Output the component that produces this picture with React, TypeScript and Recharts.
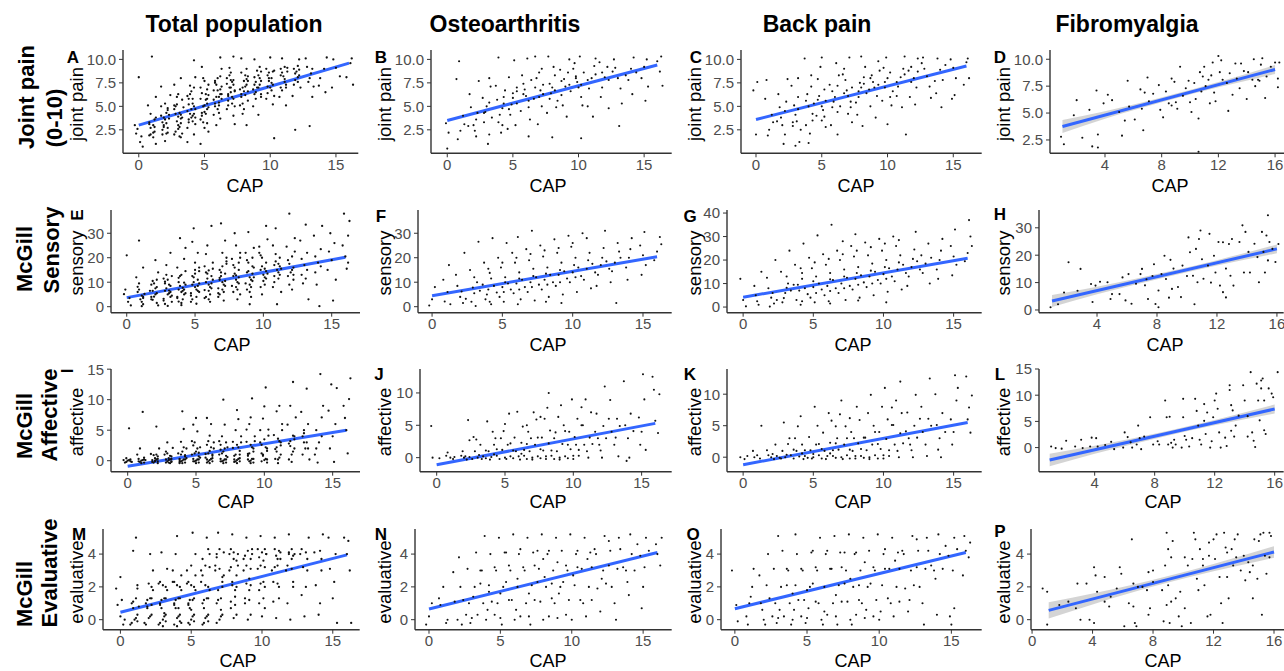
import React from "react";
import { Area, ComposedChart, Line, Scatter, XAxis, YAxis } from "recharts";

type Pt = [number, number];

// ---- Joint pain (0-10) ----
const jointTotal: Pt[] = [
  [0.1,1.2],[-0.2,2.1],[0.3,0.7],[-0.3,3.0],[0.2,1.8],[0.0,8.1],[-0.1,2.6],
  [1.1,2.2],[0.8,3.1],[1.3,1.0],[0.9,4.2],[1.2,2.8],[0.7,5.1],[1.0,10.3],[1.3,6.0],[0.8,1.9],
  [2.1,3.2],[1.8,2.0],[2.3,4.1],[1.7,5.0],[2.2,2.7],[1.9,3.8],[2.4,6.2],[2.0,1.3],[1.7,7.1],[2.2,4.8],
  [3.0,3.0],[2.8,4.2],[3.3,2.1],[2.7,5.1],[3.2,3.7],[2.9,6.0],[3.1,1.8],[3.4,4.9],[2.7,7.3],[3.2,8.0],[3.0,2.6],
  [4.1,4.0],[3.8,5.2],[4.3,3.1],[3.7,6.1],[4.2,2.0],[3.9,7.2],[4.0,4.7],[4.3,8.1],[3.8,3.6],[4.2,9.9],[4.1,5.8],[3.7,1.2],
  [5.0,5.1],[4.8,4.0],[5.3,6.2],[4.7,7.0],[5.2,3.2],[4.9,8.0],[5.1,5.7],[5.3,2.3],[4.8,9.2],[5.2,6.8],[5.0,4.4],[4.7,1.0],
  [6.1,6.0],[5.8,5.0],[6.3,7.1],[5.7,4.1],[6.2,8.2],[5.9,3.0],[6.0,6.7],[6.3,9.0],[5.8,7.7],[6.1,5.4],[6.2,10.2],
  [7.0,7.0],[6.8,6.1],[7.3,5.0],[6.7,8.0],[7.2,4.0],[6.9,9.1],[7.1,7.6],[7.3,3.1],[6.8,5.6],[7.2,10.3],[7.0,6.5],
  [8.1,7.1],[7.8,6.0],[8.3,8.2],[7.7,5.1],[8.2,9.0],[7.9,4.2],[8.0,7.7],[8.3,6.6],[7.8,10.1],[8.2,3.0],
  [9.0,7.0],[8.8,8.1],[9.3,6.0],[8.7,5.0],[9.2,9.2],[8.9,7.6],[9.1,4.1],[9.3,8.7],[8.8,10.0],
  [10.1,8.0],[9.8,7.1],[10.3,6.1],[9.7,9.0],[10.2,5.2],[9.9,8.6],[10.0,10.2],[10.3,1.6],
  [11.0,8.2],[10.8,7.0],[11.3,9.1],[10.7,6.0],[11.2,5.1],[10.9,10.1],[11.1,7.6],
  [12.1,8.1],[11.8,9.0],[12.3,7.0],[11.7,6.1],[12.2,10.0],[11.9,2.5],[12.0,8.7],
  [13.0,8.0],[12.8,9.2],[13.3,7.1],[12.7,10.1],[13.2,6.0],[13.0,2.9],
  [14.1,9.0],[13.8,8.0],[14.3,10.2],[13.7,7.2],[14.2,6.5],
  [15.0,9.1],[14.8,10.0],[15.3,8.2],[14.7,7.0],
  [16.1,9.6],[15.8,8.1],[16.3,7.3],[16.2,10.1],
  [1.2,2.3],[0.8,3.3],[1.1,1.7],[0.9,2.7],[1.3,3.8],
  [2.2,2.2],[1.8,3.3],[2.1,4.3],[1.9,2.8],[2.3,3.7],[1.7,4.0],[2.0,5.3],
  [3.2,3.2],[2.8,2.3],[3.1,4.3],[2.9,5.2],[3.3,3.8],[2.7,4.7],[3.0,6.3],[3.2,1.7],
  [4.2,4.2],[3.8,3.3],[4.1,5.3],[3.9,6.3],[4.3,4.7],[3.7,2.7],[4.0,3.8],[4.2,7.0],
  [5.2,5.3],[4.8,4.3],[5.1,6.3],[4.9,3.3],[5.3,7.3],[4.7,5.8],[5.0,2.7],[5.2,4.7],
  [6.2,6.3],[5.8,5.3],[6.1,4.3],[5.9,7.3],[6.3,5.8],[5.7,6.7],[6.0,8.0],[6.2,3.7],
  [7.2,7.3],[6.8,6.3],[7.1,5.3],[6.9,8.3],[7.3,6.7],[6.7,4.7],[7.0,7.8],[7.2,5.8],
  [8.2,7.3],[7.8,6.3],[8.1,8.3],[7.9,5.3],[8.3,7.7],[7.7,6.8],[8.0,4.7],
  [9.2,7.3],[8.8,6.3],[9.1,8.3],[8.9,5.8],[9.3,7.7],[8.7,6.8],
  [10.2,7.3],[9.8,8.3],[10.1,6.7],[9.9,7.7],[10.3,8.8],[9.7,5.8],
  [11.2,7.3],[10.8,8.3],[11.1,9.2],[10.9,6.7],[11.3,8.7],
  [12.2,8.3],[11.8,7.3],[12.1,9.3],[11.9,7.8],
  [1.1,3.0],[0.9,2.0],[1.2,3.6],[2.1,2.1],[1.9,3.0],[2.2,4.6],[1.8,2.5],[2.0,3.6],
  [3.1,2.8],[2.9,3.4],[3.2,4.1],[2.8,5.0],[3.0,3.9],[3.3,5.7],[2.7,2.0],
  [4.1,3.4],[3.9,4.2],[4.2,5.0],[3.8,5.8],[4.0,6.6],[4.3,3.8],[3.7,4.5],
  [5.1,4.2],[4.9,5.0],[5.2,5.8],[4.8,6.4],[5.0,7.7],[5.3,4.9],[4.7,3.6],
  [6.1,5.1],[5.9,6.0],[6.2,6.8],[5.8,7.5],[6.0,4.7],[6.3,6.3],[5.7,5.7],
  [7.1,6.0],[6.9,7.0],[7.2,7.8],[6.8,5.1],[7.0,8.6],[7.3,6.6],[6.7,7.4],
  [8.1,6.2],[7.9,7.0],[8.2,7.9],[7.8,8.6],[8.0,6.6],[8.3,5.6],
  [9.1,7.0],[8.9,6.5],[9.2,8.0],[8.8,7.3],[9.0,8.8],[9.3,6.3],
  [10.1,7.5],[9.9,8.0],[10.2,8.7],[9.8,6.4],[10.0,7.0],
  [11.1,7.9],[10.9,8.6],[11.2,7.0],[10.8,9.0],[12.1,7.6],[11.9,8.5],[12.2,8.9],[13.1,8.5],[12.9,7.6],[13.2,9.0],
];
const jointOA: Pt[] = [
  [0.0,0.5],[-0.1,3.2],[0.1,2.2],[0.9,9.8],[0.7,7.9],[1.0,2.4],[1.2,4.0],[0.8,1.5],[1.3,3.1],
  [2.0,3.0],[1.8,4.9],[2.2,1.8],[1.7,6.3],[2.3,4.3],[2.1,2.4],[2.4,7.7],
  [3.0,5.0],[2.8,3.3],[3.2,2.0],[2.7,5.9],[3.3,7.1],[2.9,4.4],[3.1,1.0],[3.2,8.0],
  [4.0,4.1],[3.8,5.7],[4.2,3.0],[3.7,7.2],[4.3,6.0],[3.9,10.2],[4.1,2.2],[4.2,4.8],
  [5.0,5.9],[4.8,4.1],[5.3,7.0],[4.7,8.1],[5.2,3.0],[4.9,5.2],[5.1,9.9],[5.3,6.6],
  [6.0,6.1],[5.8,7.4],[6.2,4.9],[5.7,8.3],[6.3,3.6],[5.9,6.8],[6.1,10.1],[6.2,1.8],
  [7.0,6.0],[6.8,8.0],[7.2,5.0],[6.7,10.3],[7.3,7.3],[6.9,3.1],[7.1,6.7],[7.2,9.0],
  [8.0,7.0],[7.8,5.8],[8.2,8.3],[7.7,10.3],[8.3,4.9],[7.9,6.4],[8.1,9.2],[8.0,1.7],
  [9.0,7.1],[8.8,5.1],[9.2,8.6],[8.7,6.2],[9.3,10.0],[8.9,7.9],[9.1,3.9],
  [10.0,7.0],[9.8,8.2],[10.2,6.0],[9.7,9.6],[10.3,5.1],[9.9,7.6],[10.1,10.3],[10.2,1.6],
  [11.0,8.0],[10.8,6.9],[11.2,9.3],[10.7,5.0],[11.3,10.1],[11.1,3.9],
  [12.0,8.1],[11.8,7.0],[12.2,9.2],[11.7,6.0],[12.3,4.8],
  [13.0,8.0],[12.8,9.1],[13.2,6.9],[12.7,10.0],[13.1,2.9],[13.3,5.3],
  [14.0,9.0],[13.8,7.8],[14.2,10.2],[14.1,6.3],
  [15.0,9.2],[14.8,8.0],[15.2,10.0],[15.1,5.6],[15.3,7.1],
  [16.0,9.8],[16.2,8.7],[16.4,7.2],[16.3,10.3],
  [2.8,4.3],[3.2,5.4],[3.9,3.3],[4.3,5.3],[4.7,4.7],[5.3,5.3],[5.8,6.3],[6.2,5.6],[6.7,7.0],[7.3,6.3],
  [7.8,7.4],[8.2,6.7],[8.7,7.7],[9.3,7.3],[9.8,8.0],[10.2,7.3],[10.7,7.8],[11.3,8.4],[11.8,8.6],[12.3,7.8],
  [3.4,3.8],[4.6,2.6],[5.6,4.5],[6.4,7.8],[7.6,4.3],[8.4,5.6],[9.4,6.6],[10.4,8.6],[12.6,8.7],[13.6,8.3],
  [2.2,3.6],[1.6,2.9],[5.0,6.4],[6.6,5.8],[7.0,8.6],[8.6,8.9],[9.6,9.0],[11.6,9.7],[14.4,8.6],[4.4,6.7],
];
const jointBack: Pt[] = [
  [-0.2,6.7],[0.0,2.0],[0.1,7.6],[0.8,7.8],[1.0,2.5],[1.2,4.1],[0.7,5.8],[1.3,3.3],[0.9,1.9],
  [2.0,3.0],[1.8,4.9],[2.2,2.0],[1.7,6.3],[2.3,5.5],[2.1,1.0],[2.4,7.9],[1.9,3.8],
  [3.0,4.1],[2.8,2.9],[3.2,6.0],[2.7,7.2],[3.3,1.2],[2.9,5.1],[3.1,3.4],[3.2,8.0],[3.0,0.8],
  [4.0,5.0],[3.8,3.0],[4.2,7.1],[3.7,10.1],[4.3,4.2],[3.9,6.3],[4.1,2.1],[4.2,8.3],[4.0,1.1],
  [5.0,5.0],[4.8,6.1],[5.2,3.9],[4.7,7.9],[5.3,2.8],[4.9,9.2],[5.1,4.6],[5.2,6.8],[5.0,10.2],
  [6.0,6.0],[5.8,4.9],[6.2,7.2],[5.7,3.0],[6.3,8.3],[5.9,5.5],[6.1,9.6],[6.2,2.0],
  [7.0,6.1],[6.8,7.8],[7.2,4.9],[6.7,9.0],[7.3,3.3],[6.9,6.7],[7.1,10.2],[7.2,5.5],
  [8.0,7.0],[7.8,6.0],[8.2,8.1],[7.7,4.1],[8.3,9.2],[7.9,7.5],[8.1,2.9],[8.0,10.3],
  [9.0,7.0],[8.8,8.3],[9.2,6.1],[8.7,5.0],[9.3,9.8],[8.9,7.6],[9.1,3.8],
  [10.0,8.0],[9.8,7.0],[10.2,6.0],[9.7,9.1],[10.3,5.1],[9.9,10.2],[10.0,3.1],
  [11.0,8.1],[10.8,7.1],[11.2,9.0],[10.7,6.1],[11.3,10.3],[11.4,2.0],[11.1,4.9],
  [12.0,8.0],[11.8,9.2],[12.2,7.0],[11.7,6.0],[12.3,10.1],[12.1,5.2],
  [13.0,8.2],[12.8,9.0],[13.2,7.1],[12.7,10.2],[13.3,5.9],
  [14.0,8.9],[13.8,10.1],[14.2,7.8],[14.1,4.9],[13.7,6.4],
  [15.0,9.1],[14.8,10.0],[15.2,8.0],[15.1,6.2],[14.9,5.8],
  [16.0,9.7],[16.2,8.0],[16.1,10.1],[15.8,7.3],
  [2.8,3.3],[3.2,4.7],[3.8,5.6],[4.3,3.5],[4.7,5.7],[5.3,5.6],[5.8,6.6],[6.2,4.4],[6.7,6.4],[7.3,7.0],
  [7.8,6.6],[8.2,7.4],[8.7,8.0],[9.3,7.3],[9.8,7.6],[10.2,8.6],[10.7,7.6],[11.3,8.4],[11.8,7.6],[12.3,8.7],
  [3.4,2.5],[4.6,4.0],[5.6,7.3],[6.4,5.0],[7.6,5.4],[8.4,6.4],[9.4,8.8],[10.4,6.6],[12.6,9.6],[13.6,7.7],
  [2.2,4.5],[1.6,3.4],[5.0,3.5],[6.6,8.4],[7.0,4.2],[8.6,6.8],[9.6,5.6],[11.6,8.8],[14.4,9.4],[4.4,5.3],
];
const jointFibro: Pt[] = [
  [0.9,2.8],[1.1,2.1],[2.0,6.2],[1.8,4.8],[2.4,2.7],[2.9,5.3],[3.1,1.9],[3.4,7.1],[3.5,3.0],[3.5,1.8],
  [3.9,5.9],[4.2,6.7],[4.5,6.2],[5.0,5.1],[5.2,2.9],[5.4,4.3],[5.6,8.0],[5.7,5.6],[6.1,4.4],[6.5,7.2],
  [6.6,5.4],[6.7,3.4],[7.0,8.3],[6.8,6.9],[7.1,6.1],[7.8,7.6],[7.9,5.3],[8.1,4.6],[8.3,7.0],[8.7,8.2],
  [8.7,5.7],[8.9,7.9],[9.0,6.0],[9.1,5.4],[9.3,9.3],[9.5,6.6],[9.7,7.3],[10.0,6.0],[10.1,5.1],[10.3,7.8],
  [10.4,6.3],[10.6,4.5],[10.6,1.4],[10.7,8.8],[10.9,8.4],[11.0,9.3],[11.1,7.5],[11.3,8.1],[11.4,5.9],[11.5,8.5],
  [11.6,9.7],[11.8,6.1],[12.0,10.3],[12.2,9.9],[12.1,8.8],[12.3,8.1],[12.6,7.8],[12.7,5.2],[13.0,6.7],[13.2,9.6],
  [13.3,8.2],[13.5,7.3],[13.6,9.6],[14.0,6.3],[14.1,8.8],[14.4,8.1],[14.5,10.0],[14.6,7.5],[14.8,8.1],[15.0,9.5],
  [15.1,10.1],[15.3,6.4],[15.4,8.4],[15.7,9.3],[16.0,9.7],[16.2,8.2],[16.2,7.4],[16.3,9.7],
  [9.9,8.0],[11.7,6.9],[12.8,8.7],[8.5,5.9],[7.4,6.8],[10.8,7.0],[13.8,8.9],[14.9,8.0],
];

// ---- McGill sensory ----
const sensoryTotal: Pt[] = [
  [0.1,2.0],[-0.2,5.1],[0.3,0.5],[0.0,21.0],[-0.1,7.0],[0.2,3.5],
  [1.0,3.0],[0.8,8.1],[1.2,1.0],[0.7,12.0],[1.3,5.2],[0.9,27.0],[1.1,0.2],[1.2,16.0],
  [2.0,4.1],[1.8,9.0],[2.2,1.5],[1.7,6.5],[2.3,14.0],[1.9,2.8],[2.1,19.0],[2.2,11.0],
  [3.0,5.0],[2.8,1.1],[3.2,8.5],[2.7,3.2],[3.3,12.5],[2.9,17.0],[3.1,6.6],[3.2,22.0],[3.0,0.3],[2.8,10.2],
  [4.0,6.0],[3.8,2.1],[4.2,9.8],[3.7,4.0],[4.3,14.5],[3.9,28.0],[4.1,7.7],[4.2,19.5],[4.0,0.6],[3.8,11.8],[4.3,24.0],
  [5.0,8.0],[4.8,3.0],[5.2,11.0],[4.7,5.5],[5.3,16.0],[4.9,32.0],[5.1,1.2],[5.2,22.0],[5.0,13.5],[4.8,26.5],[5.3,9.5],
  [6.0,9.0],[5.8,4.0],[6.2,12.5],[5.7,6.8],[6.3,18.0],[5.9,25.0],[6.1,2.0],[6.2,33.0],[6.0,14.8],[5.8,21.5],
  [7.0,10.0],[6.8,5.0],[7.2,13.5],[6.7,7.5],[7.3,20.0],[6.9,34.0],[7.1,2.5],[7.2,27.0],[7.0,16.5],[6.8,11.8],
  [8.0,11.0],[7.8,6.0],[8.2,15.0],[7.7,8.5],[8.3,22.0],[7.9,30.0],[8.1,3.0],[8.2,18.0],[8.0,12.8],
  [9.0,12.0],[8.8,7.0],[9.2,16.5],[8.7,9.5],[9.3,24.0],[8.9,30.5],[9.1,4.0],[9.2,20.0],[9.0,1.0],
  [10.0,13.0],[9.8,8.0],[10.2,18.0],[9.7,22.0],[10.3,27.5],[9.9,5.0],[10.1,15.5],[10.2,33.0],
  [11.0,15.0],[10.8,10.0],[11.2,20.0],[10.7,25.0],[11.3,6.0],[10.9,32.0],[11.1,17.5],[11.0,1.0],
  [12.0,14.0],[11.8,19.0],[12.2,11.0],[11.7,24.5],[12.3,28.0],[11.9,38.0],[12.1,7.0],
  [13.0,17.0],[12.8,13.0],[13.2,22.0],[12.7,27.0],[13.3,3.0],[13.1,33.5],[12.9,9.5],
  [14.0,18.0],[13.8,14.0],[14.2,23.5],[13.7,29.0],[14.3,33.0],[14.1,0.2],[13.9,9.0],
  [15.0,19.0],[14.8,22.5],[15.2,26.0],[14.7,15.0],[15.3,11.0],[15.1,2.5],[14.9,30.0],
  [16.0,20.5],[15.8,25.0],[16.2,29.0],[16.3,35.0],[16.1,15.5],[15.9,38.0],[16.2,18.0],
  [1.2,4.0],[0.8,6.0],[1.1,2.0],[0.9,9.5],[2.2,5.5],[1.8,3.0],[2.1,7.5],[1.9,10.5],[2.3,0.5],
  [3.2,4.0],[2.8,6.5],[3.1,9.0],[2.9,13.0],[3.3,2.0],[2.7,11.5],
  [4.2,5.0],[3.8,7.0],[4.1,3.0],[3.9,12.5],[4.3,9.0],[3.7,16.0],[4.0,1.5],
  [5.2,6.5],[4.8,9.0],[5.1,4.0],[4.9,12.0],[5.3,14.5],[4.7,2.0],[5.0,18.0],
  [6.2,7.5],[5.8,10.0],[6.1,5.0],[5.9,13.5],[6.3,11.0],[5.7,16.5],[6.0,3.0],
  [7.2,8.5],[6.8,11.0],[7.1,6.0],[6.9,14.0],[7.3,17.5],[6.7,4.0],[7.0,22.0],
  [8.2,9.5],[7.8,12.5],[8.1,7.0],[7.9,16.0],[8.3,5.0],[7.7,19.5],[8.0,25.0],
  [9.2,10.5],[8.8,14.0],[9.1,8.0],[8.9,18.0],[9.3,12.0],[8.7,22.0],[9.0,6.0],
  [10.2,11.5],[9.8,15.0],[10.1,9.0],[9.9,20.0],[10.3,13.5],[9.7,24.5],
  [11.2,13.0],[10.8,17.0],[11.1,11.5],[10.9,21.5],[11.3,15.5],[10.7,8.0],
  [12.2,16.0],[11.8,12.5],[12.1,20.5],[11.9,9.0],[12.3,22.5],[13.2,15.0],[12.8,19.5],[13.1,11.5],[14.2,16.5],[13.8,20.5],
  [1.1,4.5],[0.9,7.0],[1.2,3.5],[2.1,5.0],[1.9,6.5],[2.2,8.0],[1.8,4.0],[2.0,9.5],
  [3.1,5.5],[2.9,7.5],[3.2,6.0],[2.8,9.5],[3.0,11.0],[3.3,4.5],[2.7,2.5],
  [4.1,6.5],[3.9,8.5],[4.2,7.0],[3.8,10.0],[4.0,13.0],[4.3,5.5],[3.7,3.5],
  [5.1,7.0],[4.9,10.0],[5.2,8.5],[4.8,12.5],[5.0,15.0],[5.3,6.0],[4.7,4.5],
  [6.1,8.0],[5.9,11.5],[6.2,9.5],[5.8,14.0],[6.0,6.5],[6.3,15.5],[5.7,3.5],
  [7.1,9.0],[6.9,12.5],[7.2,10.5],[6.8,15.0],[7.0,7.0],[7.3,18.5],[6.7,5.5],
  [8.1,10.0],[7.9,13.5],[8.2,12.0],[7.8,17.0],[8.0,8.0],[8.3,20.0],
  [9.1,11.0],[8.9,14.5],[9.2,13.5],[8.8,19.0],[9.0,9.0],[9.3,16.0],
  [10.1,12.0],[9.9,16.5],[10.2,14.5],[9.8,21.0],[10.0,10.5],
  [11.1,14.0],[10.9,18.5],[11.2,16.5],[10.8,12.5],[12.1,15.0],[11.9,17.5],[12.2,13.0],
];
const sensoryOA: Pt[] = [
  [0.0,3.0],[-0.2,0.5],[0.2,8.0],[0.9,2.1],[1.1,6.0],[0.8,11.0],[1.3,1.0],[1.2,17.0],
  [2.0,4.0],[1.8,8.5],[2.2,1.5],[1.7,13.0],[2.3,22.0],[2.1,6.2],
  [3.0,5.5],[2.8,2.0],[3.2,10.0],[2.7,15.0],[3.3,26.5],[2.9,7.8],[3.1,0.3],
  [4.0,7.0],[3.8,3.0],[4.2,11.5],[3.7,18.0],[4.3,28.0],[3.9,5.0],[4.1,13.8],[4.2,1.0],
  [5.0,8.0],[4.8,4.0],[5.2,12.0],[4.7,20.0],[5.3,26.0],[4.9,16.0],[5.1,2.0],[5.2,10.0],
  [6.0,9.5],[5.8,5.5],[6.2,14.0],[5.7,22.0],[6.3,3.0],[5.9,18.0],[6.1,28.5],[6.2,11.5],
  [7.0,10.0],[6.8,6.0],[7.2,15.5],[6.7,23.5],[7.3,2.5],[6.9,19.0],[7.1,31.0],[7.2,12.5],
  [8.0,11.0],[7.8,7.0],[8.2,16.0],[7.7,25.0],[8.3,4.0],[7.9,20.5],[8.1,13.5],
  [9.0,13.0],[8.8,8.5],[9.2,18.0],[8.7,27.5],[9.3,5.0],[8.9,22.0],[9.1,15.0],[9.2,1.5],
  [10.0,14.0],[9.8,10.0],[10.2,20.0],[9.7,29.0],[10.3,6.0],[9.9,24.5],[10.1,17.0],
  [11.0,15.5],[10.8,11.0],[11.2,22.0],[10.7,30.0],[11.3,7.5],[11.1,19.0],
  [12.0,17.0],[11.8,13.0],[12.2,24.0],[11.7,8.5],[12.3,31.0],[12.1,20.0],
  [13.0,18.0],[12.8,14.5],[13.2,26.0],[12.7,10.0],[13.3,22.5],[13.1,1.5],
  [14.0,20.0],[13.8,16.0],[14.2,28.0],[14.1,23.5],[13.9,11.0],
  [15.0,21.0],[14.8,25.0],[15.2,17.0],[15.1,30.5],[14.9,13.0],
  [16.0,22.5],[16.2,28.5],[15.8,19.0],[16.3,25.5],
  [2.4,3.2],[3.4,6.5],[3.6,9.0],[4.4,8.5],[4.6,5.8],[5.4,9.5],[5.6,7.0],[6.4,11.0],[6.6,8.0],[7.4,12.0],
  [7.6,9.0],[8.4,13.0],[8.6,10.0],[9.4,14.5],[9.6,11.5],[10.4,16.0],[10.6,12.5],[11.4,17.5],[11.6,14.0],[12.4,18.5],
  [12.6,15.5],[13.4,20.0],[3.0,12.0],[4.0,15.5],[5.0,18.0],[6.0,20.0],[7.0,21.5],[8.0,23.0],[9.0,24.0],[10.0,26.0],
  [11.0,28.0],[5.1,6.0],[6.2,7.0],[7.1,8.0],[8.2,9.0],[9.1,10.0],[10.2,12.0],[4.1,2.0],[6.1,1.0],[8.1,2.0],
];
const sensoryBack: Pt[] = [
  [-0.2,12.0],[0.0,3.0],[0.2,0.3],[0.9,5.0],[1.1,1.0],[0.8,9.0],[1.3,15.0],[1.0,2.5],
  [2.0,4.0],[1.8,8.0],[2.2,1.5],[1.7,12.5],[2.3,20.0],[2.1,6.0],[1.9,0.2],
  [3.0,6.0],[2.8,2.0],[3.2,10.0],[2.7,15.0],[3.3,24.0],[2.9,3.8],[3.1,8.2],
  [4.0,7.0],[3.8,3.0],[4.2,12.0],[3.7,18.0],[4.3,27.0],[3.9,9.5],[4.1,1.0],[4.2,14.5],
  [5.0,8.5],[4.8,4.0],[5.2,13.0],[4.7,21.0],[5.3,30.5],[4.9,16.5],[5.1,2.0],[5.0,11.0],
  [6.0,9.0],[5.8,5.0],[6.2,14.5],[5.7,22.5],[6.3,35.0],[5.9,18.0],[6.1,2.5],[6.2,11.8],
  [7.0,10.0],[6.8,6.0],[7.2,16.0],[6.7,24.0],[7.3,3.0],[6.9,20.0],[7.1,28.0],[7.2,13.0],
  [8.0,12.0],[7.8,7.5],[8.2,17.0],[7.7,26.0],[8.3,4.0],[7.9,21.5],[8.1,14.5],[8.0,31.0],
  [9.0,13.0],[8.8,8.5],[9.2,18.5],[8.7,27.5],[9.3,5.0],[8.9,22.0],[9.1,15.5],
  [10.0,14.0],[9.8,10.0],[10.2,20.0],[9.7,29.0],[10.3,6.5],[9.9,24.0],[10.1,17.0],[10.2,2.0],
  [11.0,16.0],[10.8,11.0],[11.2,22.0],[10.7,30.0],[11.3,7.5],[11.1,19.0],[10.9,26.0],
  [12.0,17.0],[11.8,13.0],[12.2,24.5],[11.7,9.0],[12.3,32.0],[12.1,20.5],
  [13.0,18.5],[12.8,14.5],[13.2,27.0],[12.7,22.0],[13.3,10.0],
  [14.0,20.0],[13.8,16.0],[14.2,29.0],[14.1,24.0],[13.9,12.0],
  [15.0,21.5],[14.8,26.0],[15.2,18.0],[15.1,33.0],[14.9,13.5],
  [16.0,23.0],[16.2,30.0],[15.8,19.5],[16.3,26.0],[16.1,37.0],
  [2.4,3.0],[3.4,7.0],[3.6,9.5],[4.4,8.0],[4.6,5.5],[5.4,10.0],[5.6,7.5],[6.4,11.5],[6.6,8.0],[7.4,12.5],
  [7.6,9.0],[8.4,13.5],[8.6,10.5],[9.4,15.0],[9.6,11.5],[10.4,16.5],[10.6,13.0],[11.4,18.0],[11.6,14.5],[12.4,19.5],
  [12.6,16.0],[13.4,21.0],[3.1,13.0],[4.1,16.5],[5.1,19.0],[6.1,20.5],[7.1,22.5],[8.1,24.0],[9.1,25.5],[10.1,27.0],
  [11.1,28.5],[5.2,6.0],[6.2,6.8],[7.2,8.0],[8.2,9.5],[9.2,10.0],[10.2,12.0],[4.2,2.5],[6.2,1.5],[8.2,2.8],
];
const sensoryFibro: Pt[] = [
  [0.9,1.0],[1.4,2.1],[1.8,6.4],[2.1,17.4],[2.7,7.0],[2.9,15.0],[3.6,9.5],[3.7,2.9],[3.9,8.9],[4.2,10.3],
  [4.7,10.1],[4.9,4.0],[5.0,5.8],[5.5,5.8],[5.7,11.9],[5.9,3.5],[6.1,13.1],[6.3,2.3],[6.6,9.6],[6.9,13.1],
  [7.0,15.0],[7.2,9.0],[7.3,11.2],[7.4,4.0],[7.7,12.4],[7.8,16.7],[7.9,2.2],[8.1,7.1],[8.1,1.0],[8.3,13.1],
  [8.5,19.8],[8.6,11.3],[8.8,4.5],[8.9,18.3],[9.0,7.7],[9.1,15.1],[9.4,8.4],[9.6,4.7],[9.7,16.2],[10.0,12.4],
  [10.1,26.5],[10.2,21.1],[10.4,12.5],[10.5,2.1],[10.6,22.3],[10.7,10.1],[10.8,25.9],[10.9,29.0],[11.0,18.5],[11.1,11.4],
  [11.4,16.2],[11.5,27.8],[11.6,10.0],[11.8,19.8],[11.9,13.7],[12.1,24.8],[12.2,8.9],[12.4,24.7],[12.4,6.5],[12.6,15.1],
  [12.6,4.6],[12.8,24.1],[12.9,12.5],[13.0,25.9],[13.1,8.9],[13.5,24.8],[13.7,30.9],[13.8,13.7],[13.9,28.5],[14.1,21.2],
  [14.2,13.7],[14.5,24.2],[14.7,19.3],[14.8,10.1],[15.0,28.5],[15.1,21.2],[15.2,13.7],[15.3,27.2],[15.4,18.1],[15.5,24.8],
  [15.7,22.3],[15.4,34.6],[15.9,17.5],[16.1,24.1],
];

// ---- McGill affective ----
const affectiveTotal: Pt[] = [
  [0.0,0.0],[-0.2,-0.3],[0.2,0.2],[-0.1,0.4],[0.1,5.3],[0.3,-0.2],
  [1.0,0.0],[0.8,0.3],[1.2,-0.3],[0.7,1.0],[1.1,8.0],[0.9,2.0],[1.3,0.1],
  [2.0,0.0],[1.8,-0.2],[2.2,0.3],[1.7,1.1],[2.3,2.0],[2.1,5.6],[1.9,0.9],[2.2,-0.4],
  [3.0,0.1],[2.8,-0.3],[3.2,0.3],[2.7,1.0],[3.3,2.1],[2.9,3.0],[3.1,0.8],[3.2,-0.1],
  [4.0,0.0],[3.8,0.3],[4.2,-0.3],[3.7,1.2],[4.3,2.0],[3.9,3.1],[4.1,5.2],[4.0,8.1],[4.2,0.9],[3.8,-0.2],
  [5.0,0.0],[4.8,0.3],[5.2,-0.3],[4.7,1.0],[5.3,2.2],[4.9,3.0],[5.1,4.8],[5.0,7.0],[5.2,1.3],[4.8,5.9],
  [6.0,0.1],[5.8,-0.3],[6.2,0.4],[5.7,1.1],[6.3,2.0],[5.9,3.2],[6.1,6.0],[6.0,4.1],[6.2,0.8],[5.8,7.0],
  [7.0,0.0],[6.8,0.3],[7.2,-0.3],[6.7,1.0],[7.3,2.2],[6.9,4.0],[7.1,5.9],[7.0,10.0],[7.2,3.0],[6.8,1.8],
  [8.0,0.1],[7.8,-0.2],[8.2,1.0],[7.7,2.1],[8.3,3.0],[7.9,5.0],[8.1,6.8],[8.0,8.3],[8.2,0.4],
  [9.0,0.0],[8.8,1.1],[9.2,2.0],[8.7,3.1],[9.3,4.0],[8.9,6.0],[9.1,10.2],[9.0,7.1],[9.2,-0.3],
  [10.0,0.1],[9.8,1.2],[10.2,2.0],[9.7,3.0],[10.3,5.1],[9.9,6.9],[10.1,12.0],[10.0,8.9],[10.2,-0.3],
  [11.0,0.2],[10.8,1.9],[11.2,3.0],[10.7,4.2],[11.3,6.0],[10.9,8.1],[11.1,9.0],[11.0,-0.4],
  [12.0,1.0],[11.8,2.8],[12.2,4.0],[11.7,5.9],[12.3,7.1],[11.9,9.0],[12.1,12.9],[12.0,-0.2],
  [13.0,2.0],[12.8,4.0],[13.2,6.0],[12.7,8.0],[13.3,0.2],[13.1,11.8],[12.9,3.0],
  [14.0,3.0],[13.8,5.0],[14.2,7.1],[13.7,1.0],[14.3,9.0],[14.1,14.2],[13.9,-0.3],
  [15.0,4.0],[14.8,2.0],[15.2,6.0],[14.7,8.2],[15.3,11.9],[15.1,-0.2],[14.9,12.5],
  [16.0,5.0],[15.8,9.0],[16.2,10.1],[16.3,13.5],[16.1,1.2],[15.9,7.0],
  [0.2,-0.1],[-0.3,0.1],[0.8,-0.1],[1.2,0.2],[1.0,-0.4],[1.8,0.1],[2.2,-0.1],[2.0,0.4],[2.1,1.0],[2.8,0.2],
  [3.2,-0.2],[3.0,0.4],[2.9,1.2],[3.1,-0.4],[3.8,0.1],[4.2,0.2],[4.0,-0.4],[3.9,1.0],[4.1,2.2],[4.3,0.4],
  [4.8,-0.1],[5.2,0.2],[5.0,-0.4],[4.9,1.2],[5.1,2.0],[5.3,0.5],[4.7,3.2],[5.8,0.2],[6.2,-0.1],[6.0,-0.4],
  [5.9,1.2],[6.1,2.2],[6.3,3.0],[5.7,0.5],[6.8,-0.1],[7.2,0.2],[7.0,-0.4],[6.9,1.2],[7.1,2.0],[7.3,0.6],
  [6.7,3.2],[7.8,0.2],[8.2,-0.1],[8.0,-0.4],[7.9,1.0],[8.1,2.2],[8.3,4.0],[7.7,3.1],[8.8,0.2],[9.2,0.3],
  [9.0,-0.4],[8.9,1.2],[9.1,2.2],[9.3,3.2],[8.7,5.1],[9.8,-0.1],[10.2,0.2],[9.9,1.0],[10.1,2.2],[10.3,4.1],
  [9.7,5.0],[10.8,0.3],[11.2,1.0],[10.9,2.2],[11.1,3.2],[11.3,5.0],[11.8,0.2],[12.2,2.0],[11.9,3.2],[12.1,4.1],
  [12.8,1.0],[13.2,2.0],[12.9,5.0],[13.8,2.0],[14.2,4.0],
  [0.1,0.1],[-0.1,-0.2],[1.1,0.1],[0.9,-0.2],[1.2,0.5],[2.1,0.2],[1.9,-0.3],[2.2,0.7],[2.0,-0.1],
  [3.1,0.2],[2.9,-0.1],[3.2,0.7],[3.0,-0.3],[2.8,1.5],[4.1,0.2],[3.9,-0.1],[4.2,0.7],[4.0,1.5],[3.8,-0.4],
  [5.1,0.2],[4.9,-0.1],[5.2,0.7],[5.0,1.5],[4.8,2.5],[6.1,0.3],[5.9,-0.1],[6.2,1.0],[6.0,1.6],[5.8,2.6],
  [7.1,0.2],[6.9,-0.1],[7.2,0.8],[7.0,1.5],[6.8,2.6],[8.1,0.3],[7.9,-0.1],[8.2,1.6],[8.0,2.6],[7.8,0.8],
  [9.1,0.3],[8.9,-0.1],[9.2,1.5],[9.0,2.6],[8.8,0.8],[10.1,0.3],[9.9,0.8],[10.2,1.6],[10.0,3.5],[9.8,2.6],
  [11.1,0.5],[10.9,1.5],[11.2,2.5],[11.0,3.6],[12.1,1.5],[11.9,2.4],[12.2,3.5],[13.1,3.0],[12.9,4.5],
];
const affectiveOA: Pt[] = [
  [-0.3,0.0],[-0.4,4.9],[0.2,-0.1],[0.7,0.3],[1.0,0.0],[1.2,-0.2],[0.8,0.8],[1.3,0.1],
  [2.0,0.0],[1.8,0.3],[2.2,-0.3],[2.3,5.8],[1.9,1.0],[2.4,2.7],[2.1,0.2],
  [3.0,0.0],[2.8,1.0],[3.2,2.0],[2.7,3.2],[3.3,-0.2],[3.1,0.4],[2.9,2.8],
  [4.0,0.1],[3.8,1.0],[4.2,2.0],[3.7,5.6],[4.3,3.0],[3.9,-0.3],[4.1,4.0],[4.2,0.5],
  [5.0,0.0],[4.8,1.2],[5.2,2.0],[4.7,3.0],[5.3,6.8],[4.9,4.1],[5.1,-0.2],[5.0,5.2],
  [6.0,0.2],[5.8,1.0],[6.2,2.3],[5.7,3.1],[6.3,4.8],[5.9,7.1],[6.1,-0.3],[6.2,0.6],
  [7.0,0.0],[6.8,1.0],[7.2,2.0],[6.7,4.0],[7.3,5.9],[6.9,3.0],[7.1,7.0],[7.0,-0.3],
  [8.0,0.2],[7.8,1.1],[8.2,2.2],[7.7,3.1],[8.3,4.2],[7.9,6.0],[8.1,7.7],[8.0,-0.2],[8.2,10.0],
  [9.0,0.0],[8.8,1.0],[9.2,2.1],[8.7,3.9],[9.3,5.0],[8.9,6.3],[9.1,8.1],[9.0,-0.3],
  [10.0,0.3],[9.8,1.3],[10.2,2.0],[9.7,4.0],[10.3,6.0],[9.9,9.0],[10.1,3.2],[10.0,-0.2],
  [11.0,1.0],[10.8,2.0],[11.2,3.1],[10.7,5.0],[11.3,7.0],[10.9,9.0],[11.1,0.0],
  [12.0,1.1],[11.8,3.0],[12.2,4.9],[11.7,6.8],[12.3,11.0],[12.1,0.0],[11.9,2.0],
  [13.0,2.0],[12.8,4.0],[13.2,6.0],[12.7,8.9],[13.3,0.2],[13.1,3.1],
  [14.0,3.0],[13.8,5.0],[14.2,6.8],[13.7,11.8],[14.1,0.0],[13.9,-0.5],
  [15.0,4.0],[14.8,6.2],[15.2,9.0],[15.1,12.9],[14.9,2.0],[15.3,1.2],
  [16.0,5.7],[16.3,9.8],[15.9,10.5],[15.8,12.5],[16.2,3.8],
  [2.4,0.1],[2.6,-0.2],[3.4,0.2],[3.6,-0.1],[4.4,0.3],[4.6,-0.2],[5.4,0.2],[5.6,-0.1],[6.4,0.3],[6.6,-0.2],
  [7.4,0.2],[7.6,-0.1],[8.4,0.3],[8.6,-0.2],[9.4,0.2],[9.6,-0.1],[10.4,0.3],[3.6,1.1],[4.4,1.3],[5.6,1.1],
  [6.4,1.2],[7.6,1.3],[8.4,1.1],[9.6,2.0],[10.4,1.2],[11.4,2.1],[5.4,2.2],[6.6,2.1],[7.4,3.1],[8.6,3.0],
  [9.4,4.1],[10.6,5.0],[11.6,4.0],[12.4,3.0],[12.6,6.0],[13.4,4.9],[14.4,4.1],[6.6,5.0],[7.6,6.3],[10.6,7.8],
];
const affectiveBack: Pt[] = [
  [-0.2,0.0],[0.1,-0.3],[0.3,0.2],[0.8,0.0],[1.0,0.3],[1.2,-0.2],[0.7,1.0],[1.3,5.0],
  [2.0,0.0],[1.8,0.3],[2.2,-0.3],[1.7,1.1],[2.3,2.0],[2.1,0.5],
  [3.0,0.0],[2.8,1.0],[3.2,2.1],[2.7,-0.2],[3.3,3.0],[3.1,0.4],[2.9,5.5],
  [4.0,0.1],[3.8,1.0],[4.2,2.0],[3.7,3.0],[4.3,-0.3],[3.9,4.9],[4.1,6.5],[4.2,0.6],
  [5.0,0.0],[4.8,1.1],[5.2,2.0],[4.7,3.2],[5.3,5.0],[4.9,-0.2],[5.1,8.0],[5.0,0.5],
  [6.0,0.2],[5.8,1.0],[6.2,2.3],[5.7,3.9],[6.3,5.8],[5.9,-0.3],[6.1,7.0],[6.2,0.6],
  [7.0,0.0],[6.8,1.2],[7.2,2.0],[6.7,3.0],[7.3,4.9],[6.9,6.8],[7.1,-0.3],[7.0,9.0],
  [8.0,0.2],[7.8,1.0],[8.2,2.2],[7.7,4.0],[8.3,5.9],[7.9,3.0],[8.1,8.0],[8.0,-0.2],
  [9.0,0.0],[8.8,1.1],[9.2,2.0],[8.7,3.1],[9.3,5.0],[8.9,7.0],[9.1,9.9],[9.0,-0.3],
  [10.0,0.3],[9.8,1.3],[10.2,2.9],[9.7,4.0],[10.3,6.0],[9.9,8.0],[10.1,11.0],[10.0,-0.2],
  [11.0,1.0],[10.8,2.0],[11.2,3.8],[10.7,5.1],[11.3,7.0],[10.9,9.0],[11.1,0.0],[11.2,12.0],
  [12.0,1.1],[11.8,3.0],[12.2,5.0],[11.7,7.1],[12.3,9.9],[12.1,0.0],[11.9,2.0],
  [13.0,2.0],[12.8,4.0],[13.2,6.1],[12.7,8.0],[13.3,12.5],[13.1,0.2],
  [14.0,3.0],[13.8,5.1],[14.2,7.0],[13.7,10.0],[14.1,0.0],[13.9,1.2],
  [15.0,4.0],[14.8,6.0],[15.2,9.0],[15.1,13.0],[14.9,2.0],[15.3,11.0],
  [16.0,6.0],[16.3,9.8],[15.9,12.8],[16.2,3.9],[16.1,7.9],
  [2.4,0.2],[2.6,-0.1],[3.4,0.3],[3.6,-0.2],[4.4,0.2],[4.6,-0.1],[5.4,0.3],[5.6,-0.2],[6.4,0.2],[6.6,-0.1],
  [7.4,0.3],[7.6,-0.2],[8.4,0.2],[8.6,-0.1],[9.4,0.3],[9.6,-0.2],[10.4,0.2],[3.6,1.2],[4.4,1.1],[5.6,1.3],
  [6.4,1.1],[7.6,1.2],[8.4,1.3],[9.6,2.1],[10.4,1.1],[11.4,2.2],[5.4,2.1],[6.6,2.2],[7.4,3.0],[8.6,3.1],
  [9.4,4.0],[10.6,5.1],[11.6,4.1],[12.4,3.1],[12.6,6.1],[13.4,5.0],[14.4,4.0],[6.6,4.9],[7.6,6.2],[10.6,7.9],
];
const affectiveFibro: Pt[] = [
  [1.1,0.2],[1.4,-0.1],[1.8,-0.2],[2.1,1.3],[2.7,0.2],[3.1,1.5],[3.2,-0.1],[3.7,0.2],[3.8,1.9],[4.1,1.8],
  [4.2,0.2],[4.7,0.5],[5.1,1.1],[5.3,-0.3],[5.9,0.0],[6.0,2.9],[6.2,2.0],[6.4,1.0],[6.5,0.0],[6.8,0.6],
  [6.9,4.2],[7.0,1.8],[7.1,-0.3],[7.3,2.1],[7.7,5.8],[7.9,0.6],[8.2,1.2],[8.3,0.6],[8.7,9.0],[8.8,5.8],
  [8.9,0.6],[9.0,5.9],[9.1,0.9],[9.2,0.0],[9.3,1.5],[9.4,0.6],[9.8,0.0],[9.9,9.3],[9.9,5.8],[10.0,2.2],
  [10.1,1.5],[10.3,0.2],[10.5,1.8],[10.7,9.3],[10.8,7.0],[10.9,4.2],[11.0,1.5],[11.1,0.6],[11.3,8.3],[11.3,5.1],
  [11.4,2.6],[11.5,6.7],[11.7,0.0],[11.8,1.2],[11.9,5.8],[12.0,9.0],[12.1,10.3],[12.2,7.4],[12.3,2.9],[12.4,0.0],
  [12.7,1.9],[12.8,0.3],[13.0,11.9],[13.0,11.0],[13.1,8.1],[13.1,3.2],[13.2,7.1],[13.3,2.1],[13.4,4.2],[13.6,6.1],
  [13.9,11.9],[14.0,9.0],[14.2,2.1],[14.2,6.0],[14.4,14.4],[14.5,2.9],[14.6,1.3],[14.7,0.1],[14.8,12.2],[14.9,9.0],
  [15.0,5.2],[15.1,12.8],[15.1,11.3],[15.2,13.2],[15.3,9.0],[15.3,3.3],[15.4,2.6],[15.6,11.3],[15.8,10.3],[15.9,9.6],
  [16.2,14.4],
];

// ---- McGill evaluative ----
const evaluativeTotal: Pt[] = [
  [0.0,0.2],[-0.2,0.9],[0.2,-0.3],[0.0,2.6],[-0.3,1.9],[0.3,0.0],[0.1,1.2],
  [1.0,0.0],[0.8,1.0],[1.2,2.1],[0.7,-0.3],[1.3,0.8],[0.9,4.2],[1.1,5.0],[1.2,1.9],
  [2.0,0.1],[1.8,1.0],[2.2,2.0],[1.7,-0.2],[2.3,3.0],[1.9,0.7],[2.1,4.0],[2.2,1.3],
  [3.0,0.0],[2.8,1.0],[3.2,2.0],[2.7,-0.3],[3.3,3.1],[2.9,4.1],[3.1,0.4],[3.2,1.3],[2.8,2.3],
  [4.0,0.1],[3.8,1.0],[4.2,2.0],[3.7,3.0],[4.3,-0.2],[3.9,4.0],[4.1,0.7],[4.2,1.3],[3.8,2.3],[4.0,5.1],
  [5.0,0.0],[4.8,1.0],[5.2,2.0],[4.7,3.0],[5.3,4.0],[4.9,-0.3],[5.1,5.3],[5.2,1.3],[4.8,2.3],[5.0,0.6],
  [6.0,0.1],[5.8,1.0],[6.2,2.0],[5.7,3.0],[6.3,4.0],[5.9,-0.2],[6.1,5.0],[6.2,1.3],[5.8,3.7],
  [7.0,0.0],[6.8,1.0],[7.2,2.0],[6.7,3.0],[7.3,4.1],[6.9,5.3],[7.1,0.6],[7.2,2.3],[6.8,3.8],
  [8.0,0.1],[7.8,1.1],[8.2,2.0],[7.7,3.0],[8.3,4.0],[7.9,5.2],[8.1,1.4],[8.2,3.6],[7.8,4.3],
  [9.0,0.0],[8.8,1.0],[9.2,2.1],[8.7,3.0],[9.3,4.0],[8.9,5.0],[9.1,2.5],[9.2,3.7],
  [10.0,0.2],[9.8,1.0],[10.2,2.0],[9.7,3.1],[10.3,4.0],[9.9,5.1],[10.1,3.6],[10.2,4.3],
  [11.0,0.1],[10.8,1.1],[11.2,2.0],[10.7,3.0],[11.3,4.1],[10.9,5.0],[11.1,3.7],
  [12.0,0.0],[11.8,1.0],[12.2,2.0],[11.7,3.0],[12.3,4.0],[11.9,5.2],[12.1,4.3],
  [13.0,0.2],[12.8,1.5],[13.2,3.0],[12.7,4.0],[13.3,5.0],[13.1,2.0],
  [14.0,0.3],[13.8,2.1],[14.2,3.0],[13.7,4.1],[14.3,5.2],[14.1,1.0],
  [15.0,1.3],[14.8,3.1],[15.2,4.0],[14.7,5.0],[15.3,-0.2],[15.1,2.3],
  [16.0,4.0],[15.8,5.0],[16.2,3.0],[16.3,-0.2],[16.1,4.8],
  [1.2,0.3],[0.8,-0.2],[1.1,1.3],[0.9,0.7],[2.2,0.3],[1.8,-0.3],[2.1,1.3],[1.9,0.8],[2.3,1.8],[3.2,0.3],
  [2.8,-0.2],[3.1,1.3],[2.9,0.7],[3.3,1.8],[2.7,2.2],[3.0,-0.4],[4.2,0.3],[3.8,-0.3],[4.1,1.3],[3.9,0.7],
  [4.3,1.8],[3.7,2.3],[4.0,-0.4],[5.2,0.3],[4.8,-0.2],[5.1,1.2],[4.9,0.7],[5.3,1.8],[4.7,2.2],[5.0,3.3],
  [6.2,0.3],[5.8,-0.3],[6.1,1.3],[5.9,0.7],[6.3,1.8],[5.7,2.3],[6.0,3.3],[6.2,4.3],[7.2,0.3],[6.8,-0.2],
  [7.1,1.3],[6.9,1.8],[7.3,2.7],[6.7,3.3],[7.0,4.3],[8.2,0.3],[7.8,0.7],[8.1,1.8],[7.9,2.3],[8.3,3.3],
  [7.7,4.0],[8.0,3.7],[9.2,0.3],[8.8,1.3],[9.1,1.8],[8.9,3.3],[9.3,4.3],[8.7,3.7],[10.2,0.7],[9.8,1.8],
  [10.1,2.3],[9.9,3.3],[10.3,4.0],[9.7,4.3],[11.2,1.3],[10.8,2.3],[11.1,3.3],[10.9,4.3],[11.3,3.7],[12.2,2.3],
  [11.8,3.3],[12.1,3.7],[11.9,4.0],[13.2,3.7],[12.8,4.3],[14.2,3.7],
  [1.1,0.1],[0.9,1.1],[1.2,-0.1],[2.1,0.2],[1.9,1.2],[2.2,0.9],[2.0,2.2],
  [3.1,0.2],[2.9,1.2],[3.2,-0.1],[3.0,2.1],[2.8,0.9],[4.1,0.2],[3.9,1.2],[4.2,-0.1],[4.0,2.1],[3.8,0.9],[4.3,2.7],
  [5.1,0.2],[4.9,1.2],[5.2,-0.1],[5.0,2.1],[4.8,0.9],[5.3,2.7],[6.1,0.2],[5.9,1.2],[6.2,-0.1],[6.0,2.1],[5.8,2.7],[6.3,3.2],
  [7.1,0.2],[6.9,1.2],[7.2,2.6],[7.0,3.1],[6.8,4.0],[8.1,0.9],[7.9,2.1],[8.2,2.7],[8.0,4.1],[7.8,3.2],
  [9.1,1.2],[8.9,2.2],[9.2,3.1],[9.0,4.2],[8.8,3.9],[10.1,1.3],[9.9,2.2],[10.2,3.2],[10.0,4.1],[9.8,3.8],
  [11.1,2.2],[10.9,3.2],[11.2,4.2],[11.0,3.9],[12.1,3.1],[11.9,4.1],[12.2,3.9],[13.1,4.1],[12.9,3.2],[14.1,4.2],
];
const evaluativeOA: Pt[] = [
  [0.0,0.2],[0.2,1.0],[-0.2,-0.3],[0.8,0.9],[1.0,2.0],[1.2,-0.2],[0.7,1.3],[1.3,0.0],
  [2.0,0.0],[1.8,1.1],[2.2,2.0],[1.7,2.9],[2.3,-0.3],[2.1,3.8],
  [3.0,0.1],[2.8,1.0],[3.2,2.0],[2.7,3.1],[3.3,4.1],[2.9,-0.2],[3.1,1.4],
  [4.0,0.0],[3.8,1.0],[4.2,2.1],[3.7,3.0],[4.3,4.0],[3.9,5.1],[4.1,0.6],[4.2,1.7],
  [5.0,0.1],[4.8,1.0],[5.2,2.0],[4.7,3.0],[5.3,4.1],[4.9,5.0],[5.1,-0.3],[5.0,1.6],
  [6.0,0.0],[5.8,1.2],[6.2,2.0],[5.7,3.0],[6.3,4.0],[5.9,5.2],[6.1,0.6],[6.2,2.5],
  [7.0,0.2],[6.8,1.0],[7.2,2.1],[6.7,3.0],[7.3,4.1],[6.9,5.0],[7.1,-0.3],[7.0,1.6],
  [8.0,0.0],[7.8,1.1],[8.2,2.0],[7.7,3.1],[8.3,4.0],[7.9,5.2],[8.1,2.6],[8.0,3.7],
  [9.0,0.1],[8.8,1.0],[9.2,2.0],[8.7,3.0],[9.3,4.2],[8.9,5.0],[9.1,1.6],[9.0,3.5],
  [10.0,0.0],[9.8,1.2],[10.2,2.1],[9.7,3.0],[10.3,4.0],[9.9,5.2],[10.1,2.7],
  [11.0,0.2],[10.8,1.0],[11.2,2.0],[10.7,3.1],[11.3,4.1],[10.9,5.0],[11.1,3.7],
  [12.0,0.5],[11.8,1.9],[12.2,3.0],[11.7,4.0],[12.3,5.1],[12.1,2.5],
  [13.0,1.0],[12.8,2.0],[13.2,3.1],[12.7,4.2],[13.3,5.0],[13.1,0.0],
  [14.0,1.5],[13.8,3.0],[14.2,4.0],[14.1,5.2],[13.9,2.3],
  [15.0,2.0],[14.8,3.9],[15.2,5.0],[15.1,3.2],[14.9,0.7],
  [16.0,4.0],[16.3,5.0],[15.9,4.6],[16.2,3.3],
  [2.4,1.2],[3.4,0.3],[3.6,2.2],[4.4,1.1],[4.6,0.3],[5.4,2.3],[5.6,1.2],[6.4,0.2],[6.6,3.2],[7.4,1.2],
  [7.6,2.3],[8.4,4.2],[8.6,1.3],[9.4,2.3],[9.6,3.3],[10.4,4.2],[10.6,1.2],[11.4,3.2],[11.6,4.3],[12.4,2.2],
  [12.6,3.3],[13.4,4.3],[13.6,3.2],[14.4,3.0],[2.6,0.3],[5.4,4.1],[6.4,4.3],[7.6,4.2],[8.4,0.2],[9.6,0.3],
  [4.6,3.2],[3.6,3.0],[5.6,3.3],[7.4,3.3],[8.6,2.2],[10.4,3.2],[11.4,1.2],[12.6,4.8],[14.6,4.6],[15.4,4.2],
];
const evaluativeBack: Pt[] = [
  [-0.2,3.0],[0.1,0.9],[0.2,-0.1],[0.8,0.2],[1.0,1.0],[1.2,2.0],[0.9,-0.3],[1.3,3.1],[1.1,1.4],
  [2.0,0.0],[1.8,1.0],[2.2,2.1],[1.7,2.7],[2.3,4.0],[2.1,-0.3],[1.9,0.6],
  [3.0,0.1],[2.8,1.0],[3.2,2.0],[2.7,3.1],[3.3,4.2],[2.9,-0.2],[3.1,0.6],[3.0,5.1],
  [4.0,0.0],[3.8,1.0],[4.2,2.1],[3.7,3.0],[4.3,4.0],[3.9,-0.3],[4.1,0.6],[4.0,1.6],[4.2,5.2],
  [5.0,0.1],[4.8,1.2],[5.2,2.0],[4.7,3.0],[5.3,4.1],[4.9,-0.2],[5.1,0.7],[5.0,1.8],
  [6.0,0.0],[5.8,1.0],[6.2,2.0],[5.7,3.0],[6.3,4.0],[5.9,5.0],[6.1,-0.3],[6.2,0.5],
  [7.0,0.2],[6.8,1.0],[7.2,2.1],[6.7,3.1],[7.3,4.1],[6.9,5.1],[7.1,-0.3],[7.0,1.5],
  [8.0,0.0],[7.8,1.1],[8.2,2.0],[7.7,3.0],[8.3,4.0],[7.9,5.2],[8.1,-0.3],[8.0,2.5],
  [9.0,0.1],[8.8,1.0],[9.2,2.0],[8.7,3.0],[9.3,4.2],[8.9,5.0],[9.1,0.6],[9.0,3.5],
  [10.0,0.0],[9.8,1.2],[10.2,2.1],[9.7,3.0],[10.3,4.0],[9.9,5.2],[10.1,0.5],
  [11.0,0.2],[10.8,1.0],[11.2,2.0],[10.7,3.1],[11.3,4.1],[10.9,5.0],[11.1,3.6],
  [12.0,0.5],[11.8,1.9],[12.2,3.0],[11.7,4.0],[12.3,5.1],[12.1,1.2],
  [13.0,1.0],[12.8,2.0],[13.2,3.1],[12.7,4.2],[13.3,5.0],[13.1,-0.3],
  [14.0,0.3],[13.8,3.0],[14.2,4.0],[14.1,5.2],[13.9,2.5],
  [15.0,-0.3],[14.8,3.9],[15.2,5.0],[15.1,3.0],[14.9,0.2],[15.2,0.7],
  [16.0,4.2],[16.3,4.7],[15.9,5.1],[16.2,3.8],[15.8,2.7],
  [2.4,1.3],[3.4,0.2],[3.6,2.1],[4.4,1.2],[4.6,0.2],[5.4,2.2],[5.6,1.1],[6.4,0.3],[6.6,3.1],[7.4,1.1],
  [7.6,2.2],[8.4,4.1],[8.6,1.2],[9.4,2.2],[9.6,3.2],[10.4,4.3],[10.6,1.3],[11.4,3.1],[11.6,4.2],[12.4,2.1],
  [12.6,3.2],[13.4,4.2],[13.6,3.3],[14.4,3.1],[2.6,0.2],[5.4,4.2],[6.4,4.2],[7.6,4.1],[8.4,0.3],[9.6,0.2],
  [4.6,3.1],[3.6,3.1],[5.6,3.2],[7.4,3.2],[8.6,2.1],[10.4,3.1],[11.4,1.1],[12.6,4.9],[14.6,4.5],[15.4,4.3],
];
const evaluativeFibro: Pt[] = [
  [0.7,1.9],[1.0,1.7],[1.0,-0.3],[1.8,0.9],[2.4,1.1],[2.9,0.7],[3.0,2.2],[3.2,0.0],[3.6,2.2],[3.8,0.0],
  [4.1,3.2],[4.1,-0.2],[4.2,2.7],[4.3,1.7],[4.8,2.6],[4.8,1.1],[5.1,0.8],[5.2,1.4],[5.6,1.9],[5.8,3.2],
  [5.9,2.8],[6.1,-0.4],[6.4,1.0],[6.6,4.9],[6.7,0.8],[6.7,2.2],[6.8,-0.2],[6.9,-0.4],[7.0,2.0],[7.3,2.0],
  [7.6,1.8],[7.7,0.3],[7.7,2.9],[7.8,0.7],[8.0,3.0],[8.0,2.3],[8.6,1.8],[8.7,-0.1],[8.8,3.3],[8.9,0.9],
  [8.9,5.3],[9.0,2.1],[9.0,4.3],[9.1,-0.2],[9.2,1.1],[9.2,3.8],[9.3,4.8],[9.5,1.3],[9.7,0.2],[9.8,1.7],
  [9.9,-0.4],[10.1,0.7],[10.1,3.8],[10.3,3.3],[10.5,-0.2],[10.6,3.7],[10.7,5.3],[10.8,4.9],[10.9,2.5],[11.0,1.8],
  [11.1,4.3],[11.3,3.7],[11.3,3.3],[11.4,2.1],[11.6,0.2],[11.7,4.7],[11.7,3.9],[11.8,0.3],[12.0,4.9],[12.1,3.7],
  [12.2,5.2],[12.4,2.6],[12.5,1.0],[12.6,-0.2],[12.7,5.3],[12.8,4.4],[12.9,2.6],[12.9,4.1],[13.0,1.3],[13.2,4.3],
  [13.3,3.3],[13.4,4.9],[13.5,3.8],[13.6,5.2],[13.8,3.0],[14.0,3.9],[14.1,2.4],[14.3,3.5],[14.4,2.9],[14.6,3.3],
  [14.6,1.3],[14.7,4.9],[14.9,2.5],[15.0,4.8],[15.1,5.2],[15.2,0.3],[15.3,5.3],[15.4,3.9],[15.5,2.8],[15.7,5.3],
  [15.8,5.1],[15.7,3.8],
];

// fitted lines and confidence bands for fibromyalgia
const fitJoint: Pt[][] = [[[0, 3.0], [16, 9.6]], [[0, 3.5], [16, 9.4]], [[0, 3.6], [16, 9.3]], [[1, 3.75], [16, 9.05]]];
const fitSensory: Pt[][] = [[[0, 3.7], [16, 20.2]], [[0, 4.5], [16, 20.4]], [[0, 4.2], [16, 20.8]], [[1, 3.3], [16, 22.3]]];
const fitAffective: Pt[][] = [[[0, -0.9], [16, 5.0]], [[0, -1.1], [16, 5.3]], [[0, -1.2], [16, 5.5]], [[1, -2.36], [16, 7.36]]];
const fitEvaluative: Pt[][] = [[[0, 0.45], [16, 3.95]], [[0, 0.65], [16, 4.1]], [[0, 0.67], [16, 4.1]], [[1.1, 0.57], [16, 4.13]]];

type Band = [number, number, number];
const bandJoint: Band[] = [[1, 3.15, 4.35], [4, 4.46, 5.16], [8.5, 6.18, 6.62], [12, 7.39, 7.89], [16, 8.63, 9.47]];
const bandSensory: Band[] = [[1, 1.1, 5.5], [4, 5.7, 8.5], [9, 12.5, 14.3], [12, 16.2, 18.2], [16, 20.7, 23.9]];
const bandAffective: Band[] = [[1, -3.56, -1.16], [4, -1.17, 0.33], [9, 2.37, 3.27], [12, 4.27, 5.27], [16, 6.51, 8.21]];
const bandEvaluative: Band[] = [[1.1, 0.07, 1.07], [4, 0.93, 1.59], [9, 2.26, 2.66], [12, 2.95, 3.39], [16, 3.78, 4.48]];

const columns = ["Total population", "Osteoarthritis", "Back pain", "Fibromyalgia"];
const letters = "ABCDEFGHIJKLMNOP".split("");
const FONT = "'Liberation Sans', Arial, sans-serif";

type Cfg = {
  left: number; right: number; top: number; bottom: number;
  xd: [number, number]; yd: [number, number];
  xt: number[]; yt: number[]; fmt?: (v: number) => string;
  pts: Pt[]; fit: Pt[]; band?: Band[]; r?: number;
};

const one = (v: number) => v.toFixed(1);
const capTicks = [0, 5, 10, 15];
const fibTicks = [4, 8, 12, 16];

const panels: Cfg[] = [
  { left: 122.7, right: 358, top: 50, bottom: 153.3, xd: [-1.2, 16.7], yd: [0, 11], xt: capTicks, yt: [2.5, 5, 7.5, 10], fmt: one, pts: jointTotal, fit: fitJoint[0], r: 1.15 },
  { left: 431, right: 671.7, top: 50, bottom: 153.3, xd: [-1.24, 17.1], yd: [0, 11], xt: capTicks, yt: [2.5, 5, 7.5, 10], fmt: one, pts: jointOA, fit: fitJoint[1] },
  { left: 741, right: 981.7, top: 50, bottom: 153.3, xd: [-1.14, 17.16], yd: [0, 11], xt: capTicks, yt: [2.5, 5, 7.5, 10], fmt: one, pts: jointBack, fit: fitJoint[2] },
  { left: 1050, right: 1284, top: 50, bottom: 153.3, xd: [0.12, 16.63], yd: [1.26, 10.86], xt: fibTicks, yt: [2.5, 5, 7.5, 10], fmt: one, pts: jointFibro, fit: fitJoint[3], band: bandJoint },

  { left: 111, right: 360, top: 210, bottom: 312.7, xd: [-1.15, 17.07], yd: [-2.45, 39.5], xt: capTicks, yt: [0, 10, 20, 30], pts: sensoryTotal, fit: fitSensory[0], r: 1.15 },
  { left: 418, right: 671.7, top: 210, bottom: 312.7, xd: [-1.0, 17.04], yd: [-2.45, 39.5], xt: capTicks, yt: [0, 10, 20, 30], pts: sensoryOA, fit: fitSensory[1] },
  { left: 727, right: 981.7, top: 210, bottom: 312.7, xd: [-1.15, 17.0], yd: [-2.4, 41.3], xt: capTicks, yt: [0, 10, 20, 30, 40], pts: sensoryBack, fit: fitSensory[2] },
  { left: 1039.3, right: 1284, top: 210, bottom: 312.7, xd: [0.13, 16.45], yd: [-0.99, 36.5], xt: fibTicks, yt: [0, 10, 20, 30], pts: sensoryFibro, fit: fitSensory[3], band: bandSensory },

  { left: 111, right: 360, top: 369, bottom: 471.7, xd: [-1.22, 17.0], yd: [-1.8, 15.03], xt: capTicks, yt: [0, 5, 10, 15], pts: affectiveTotal, fit: fitAffective[0], r: 1.15 },
  { left: 420, right: 671.7, top: 369, bottom: 471.7, xd: [-1.22, 17.2], yd: [-2.17, 13.7], xt: capTicks, yt: [0, 5, 10], pts: affectiveOA, fit: fitAffective[1] },
  { left: 727, right: 981.7, top: 369, bottom: 471.7, xd: [-1.15, 17.0], yd: [-2.3, 14.0], xt: capTicks, yt: [0, 5, 10], pts: affectiveBack, fit: fitAffective[2] },
  { left: 1039.3, right: 1284, top: 369, bottom: 471.7, xd: [0.29, 16.6], yd: [-4.6, 15.0], xt: fibTicks, yt: [0, 5, 10, 15], pts: affectiveFibro, fit: fitAffective[3], band: bandAffective },

  { left: 103.3, right: 360, top: 529.3, bottom: 630, xd: [-1.23, 16.9], yd: [-0.61, 5.53], xt: capTicks, yt: [0, 2, 4], pts: evaluativeTotal, fit: fitEvaluative[0], r: 1.15 },
  { left: 415, right: 671.7, top: 529.3, bottom: 630, xd: [-0.98, 17.0], yd: [-0.61, 5.53], xt: capTicks, yt: [0, 2, 4], pts: evaluativeOA, fit: fitEvaluative[1] },
  { left: 721, right: 981.7, top: 529.3, bottom: 630, xd: [-0.96, 17.1], yd: [-0.61, 5.53], xt: capTicks, yt: [0, 2, 4], pts: evaluativeBack, fit: fitEvaluative[2] },
  { left: 1030.7, right: 1284, top: 529.3, bottom: 630, xd: [-0.07, 16.68], xt: [0, 4, 8, 12, 16], yd: [-0.61, 5.53], yt: [0, 2, 4], pts: evaluativeFibro, fit: fitEvaluative[3], band: bandEvaluative },
];

const yTitles = ["joint pain", "sensory", "affective", "evaluative"];
const yTitleX = [77, 385, 695, 1004];
const capX = [[245, 548, 856, 1170], [232, 548, 853, 1165], [236, 548, 853, 1163], [238, 548, 853, 1163]];
const capY = [186, 345, 502, 661];
const letterPos: [number, number, boolean][] = [
  [73, 57, false], [381, 57, false], [696, 57, false], [1000, 57, false],
  [77, 215, true], [381, 216, false], [690, 216, false], [1000, 214, false],
  [67, 371, true], [379, 374, false], [690, 374, false], [1000, 374, false],
  [79, 534, false], [381, 534, false], [693, 534, false], [1000, 531, false],
];

function Txt({ x, y, text, size, bold, rot }: { x: number; y: number; text: string; size: number; bold?: boolean; rot?: boolean }) {
  return (
    <div
      style={{
        position: "absolute", left: x, top: y, fontFamily: FONT, fontSize: size,
        fontWeight: bold ? 700 : 400, lineHeight: 1, whiteSpace: "nowrap", color: "#000",
        transform: `translate(-50%, -50%)${rot ? " rotate(-90deg)" : ""}`,
      }}
    >
      {text}
    </div>
  );
}

const ML = 46;
const MB = 28;
const MT = 10;

function Panel({ c }: { c: Cfg }) {
  const pw = c.right - c.left;
  const ph = c.bottom - c.top;
  const pts = c.pts.map(([x, y]) => ({ x, y }));
  const fit = c.fit.map(([x, y]) => ({ x, y }));
  const band = c.band ? c.band.map(([x, lo, hi]) => ({ x, range: [lo, hi] })) : null;
  const r = c.r ?? 1.05;
  const tick = { fill: "#4d4d4d", fontSize: 15, fontFamily: FONT };
  return (
    <div style={{ position: "absolute", left: c.left - ML, top: c.top - MT }}>
      <ComposedChart width={ML + pw + 2} height={MT + ph + MB} margin={{ top: MT, right: 2, left: 0, bottom: 0 }}>
        <XAxis
          type="number" dataKey="x" domain={c.xd} ticks={c.xt} allowDataOverflow interval={0}
          height={MB} tickSize={4} tickMargin={2} tick={tick}
          axisLine={{ stroke: "#333", strokeWidth: 1.4 }} tickLine={{ stroke: "#333" }}
        />
        <YAxis
          type="number" dataKey="y" domain={c.yd} ticks={c.yt} allowDataOverflow interval={0}
          width={ML} tickSize={4} tickMargin={3} tick={tick} tickFormatter={c.fmt}
          axisLine={{ stroke: "#333", strokeWidth: 1.4 }} tickLine={{ stroke: "#333" }}
        />
        {band && (
          <Area data={band} dataKey="range" type="monotone" fill="#a0a0a0" fillOpacity={0.45} stroke="none" isAnimationActive={false} />
        )}
        <Scatter
          data={pts} isAnimationActive={false}
          shape={(p: any) => <circle cx={p.cx} cy={p.cy} r={r} fill="#111" />}
        />
        <Line data={fit} dataKey="y" stroke="#3366ff" strokeWidth={3} dot={false} isAnimationActive={false} />
      </ComposedChart>
    </div>
  );
}

export default function App() {
  return (
    <div style={{ position: "fixed", left: 0, top: 0, width: 1284, height: 671, overflow: "hidden", background: "#fff" }}>
      {panels.map((c, i) => <Panel key={i} c={c} />)}

      <Txt x={234} y={24} text={columns[0]} size={23} bold />
      <Txt x={505} y={24} text={columns[1]} size={23} bold />
      <Txt x={817} y={24} text={columns[2]} size={23} bold />
      <Txt x={1127} y={24} text={columns[3]} size={23} bold />

      <Txt x={27} y={97} text="Joint pain" size={22} bold rot />
      <Txt x={55} y={118} text="(0-10)" size={22} bold rot />
      <Txt x={25} y={259} text="McGill" size={22} bold rot />
      <Txt x={52} y={250} text="Sensory" size={22} bold rot />
      <Txt x={25} y={426} text="McGill" size={22} bold rot />
      <Txt x={50} y={415} text="Affective" size={22} bold rot />
      <Txt x={25} y={594} text="McGill" size={22} bold rot />
      <Txt x={50} y={573} text="Evaluative" size={22} bold rot />

      {panels.map((c, i) => {
        const row = Math.floor(i / 4);
        const col = i % 4;
        return (
          <React.Fragment key={"t" + i}>
            <Txt x={yTitleX[col]} y={(c.top + c.bottom) / 2 + 2} text={yTitles[row]} size={18.5} rot />
            <Txt x={capX[row][col]} y={capY[row]} text="CAP" size={18} />
            <Txt x={letterPos[i][0]} y={letterPos[i][1]} text={letters[i]} size={17} bold rot={letterPos[i][2]} />
          </React.Fragment>
        );
      })}
    </div>
  );
}
